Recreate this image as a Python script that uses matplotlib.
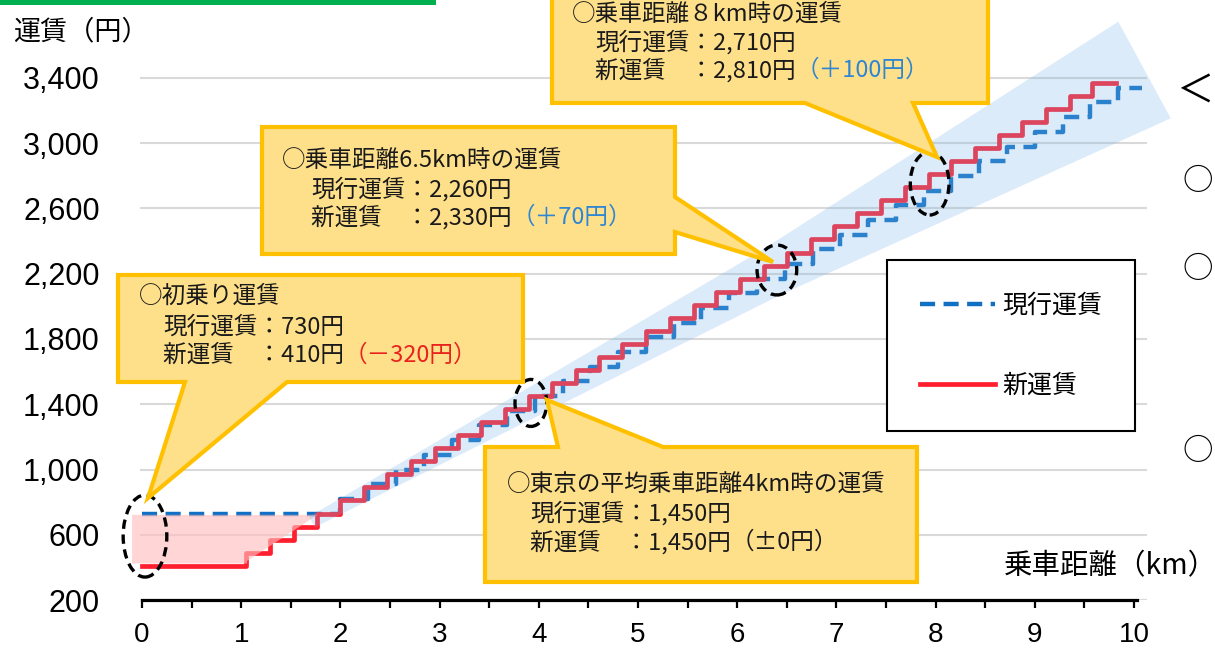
import matplotlib
matplotlib.use('Agg')
import matplotlib.pyplot as plt
from matplotlib.patches import Polygon, Ellipse, Rectangle
from matplotlib.ticker import FixedLocator, MultipleLocator, FuncFormatter
from matplotlib.font_manager import FontProperties

# ---------------- data ----------------
new_start_km = [0.00, 1.05, 1.29, 1.53, 1.76, 2.00, 2.24, 2.47, 2.71, 2.95,
                3.19, 3.42, 3.66, 3.90, 4.13, 4.37, 4.61, 4.84, 5.08, 5.32,
                5.56, 5.79, 6.03, 6.27, 6.50, 6.74, 6.98, 7.21, 7.45, 7.69,
                7.93, 8.16, 8.40, 8.64, 8.87, 9.11, 9.35, 9.58]
new_end_km = 9.82
new_fare = [410, 490, 570, 650, 730, 810, 890, 970, 1050, 1130,
            1210, 1290, 1370, 1450, 1530, 1610, 1690, 1770, 1850, 1930,
            2010, 2090, 2170, 2250, 2330, 2410, 2490, 2570, 2650, 2730,
            2810, 2890, 2970, 3050, 3130, 3210, 3290, 3370]

old_start_km = [0.00, 2.00, 2.28, 2.56, 2.84, 3.12, 3.40, 3.68, 3.96, 4.24,
                4.52, 4.80, 5.08, 5.36, 5.64, 5.92, 6.20, 6.48, 6.76, 7.04,
                7.32, 7.60, 7.88, 8.16, 8.44, 8.72, 9.00, 9.28, 9.56, 9.84]
old_end_km = 10.08
old_fare = [730, 820, 910, 1000, 1090, 1180, 1270, 1360, 1450, 1540,
            1630, 1720, 1810, 1900, 1990, 2080, 2170, 2260, 2350, 2440,
            2530, 2620, 2710, 2800, 2890, 2980, 3070, 3160, 3250, 3340]

y_ticks = [200, 600, 1000, 1400, 1800, 2200, 2600, 3000, 3400]
x_ticks = [0, 1, 2, 3, 4, 5, 6, 7, 8, 9, 10]
series_labels = ['現行運賃', '新運賃']
y_title = '運賃（円）'
x_title = '乗車距離（km）'

# highlighted points (dashed ellipses): centre km, centre fare
highlight_km = [0.03, 3.92, 6.40, 7.94]
highlight_fare = [592, 1408, 2223, 2754]

callout_titles = ['○初乗り運賃', '○東京の平均乗車距離4km時の運賃',
                  '○乗車距離6.5km時の運賃', '○乗車距離８km時の運賃']
callout_old = ['現行運賃：730円', '現行運賃：1,450円', '現行運賃：2,260円', '現行運賃：2,710円']
callout_new = ['新運賃　：410円', '新運賃　：1,450円', '新運賃　：2,330円', '新運賃　：2,810円']
callout_diff = ['（－320円）', '（±0円）', '（＋70円）', '（＋100円）']

# ---------------- styling ----------------
W, H = 1215, 649
plt.rcParams['font.family'] = ['Liberation Sans', 'Noto Sans CJK JP', 'DejaVu Sans']
JP = ['Noto Sans CJK JP', 'DejaVu Sans']
BLUE = '#1270C4'
RED = '#FF1F2E'
DIFF_COLORS = ['#E8231E', '#1A1A1A', '#2E86D2', '#2E86D2']

fig = plt.figure(figsize=(W / 100, H / 100), dpi=100)

KM_PX = 99.2          # pixels per km
X0_PX = 142.0         # pixel x of 0 km
YEN_PX = 65.25 / 400  # pixels per yen
Y200_PX = 600.0       # pixel y (from top) of 200 yen
xlim = (-0.02, 10.13)
ylim = (200, 3410)


def fx(px):
    return px / W


def fy(py):
    return 1 - py / H


left_px = X0_PX + xlim[0] * KM_PX
right_px = X0_PX + xlim[1] * KM_PX
top_px = Y200_PX - (ylim[1] - ylim[0]) * YEN_PX
ax = fig.add_axes([fx(left_px), fy(Y200_PX), (right_px - left_px) / W, (Y200_PX - top_px) / H])
ax.set_xlim(*xlim)
ax.set_ylim(*ylim)
ax.patch.set_visible(False)

for s in ['left', 'right', 'top']:
    ax.spines[s].set_visible(False)
ax.spines['bottom'].set_linewidth(2.3)
ax.spines['bottom'].set_bounds(0, 10.03)

ax.xaxis.set_major_locator(FixedLocator(x_ticks))
ax.xaxis.set_minor_locator(MultipleLocator(0.5))
ax.yaxis.set_major_locator(FixedLocator(y_ticks))
ax.yaxis.set_major_formatter(FuncFormatter(lambda v, p: f'{int(v):,}'))
ax.tick_params(axis='x', which='both', direction='out', length=5.5, width=1.6,
               color='black', labelsize=20, pad=10)
ax.tick_params(axis='y', length=0, labelsize=22, pad=29)
ax.set_axisbelow(True)
ax.yaxis.grid(True, color='#D9D9D9', lw=1.5)

# steps
old_x = old_start_km + [old_end_km]
old_y = old_fare + [old_fare[-1]]
new_x = new_start_km + [new_end_km]
new_y = new_fare + [new_fare[-1]]
blue_line, = ax.step(old_x, old_y, where='post', color=BLUE, lw=3.2,
                     dashes=(3.4, 1.9), zorder=3, label=series_labels[0])
red_line, = ax.step(new_x, new_y, where='post', color=RED, lw=3.4, zorder=4,
                    label=series_labels[1])

# pink area between initial fares
pink = Polygon([(-0.1, 722), (1.77, 722), (1.06, 440), (1.06, 424), (-0.1, 424)],
               closed=True, facecolor=(1.0, 0.74, 0.74), edgecolor='none',
               alpha=0.635, zorder=5, clip_on=False)
ax.add_patch(pink)

# light blue translucent band (pixel geometry): narrow at lower left, flaring at upper right
sx, sy = 312.0, 522.0
ex, ey = 1144.5, 70.0
dx, dy = ex - sx, ey - sy
L = (dx ** 2 + dy ** 2) ** 0.5
nx, ny = -dy / L, dx / L
ts = [0.0, 0.55, 1.0]
hw = [6.0, 24.0, 55.0]
upper, lower = [], []
for t, w_ in zip(ts, hw):
    cx, cy = sx + dx * t, sy + dy * t
    upper.append((cx - nx * w_, cy - ny * w_))
    lower.append((cx + nx * w_, cy + ny * w_))
band_px = upper + lower[::-1]
band = Polygon([(fx(a), fy(b)) for a, b in band_px], closed=True,
               transform=fig.transFigure, facecolor=(0.48, 0.70, 0.91),
               edgecolor='none', alpha=0.26, zorder=6, clip_on=False)
ax.add_patch(band)

# dashed ellipses
ell_w = [0.44, 0.32, 0.40, 0.39]
ell_h = [503, 288, 306, 388]
for k, f, w_, h_ in zip(highlight_km, highlight_fare, ell_w, ell_h):
    ax.add_patch(Ellipse((k, f), w_, h_, fill=False, edgecolor='black', lw=2.4,
                         linestyle=(0, (2.8, 1.7)), zorder=8, clip_on=False))

# callouts (pixel geometry)
callout_shapes = [
    [(118, 275), (523, 275), (523, 382), (287, 382), (148, 498), (185, 382), (118, 382)],
    [(485, 447), (558, 447), (547, 400), (663, 447), (917, 447), (917, 582), (485, 582)],
    [(262, 127), (675, 127), (675, 197), (773, 262), (675, 232), (675, 254), (262, 254)],
    [(552, -10), (988, -10), (988, 103), (913, 103), (937, 157), (805, 103), (552, 103)],
]
callout_text_pos = [  # x_title, x_body, y1, y2, y3
    (139, 163, 296, 327, 355),
    (507, 530, 484, 513, 542),
    (282, 311, 160, 189, 217),
    (572, 595, 14, 42, 70),
]
for shape, pos, t1, t2, t3, td, col in zip(callout_shapes, callout_text_pos, callout_titles,
                                           callout_old, callout_new, callout_diff, DIFF_COLORS):
    ax.add_patch(Polygon([(fx(a), fy(b)) for a, b in shape], closed=True,
                         transform=fig.transFigure, facecolor='#FFE08A',
                         edgecolor='#FFC000', lw=3.0, joinstyle='miter',
                         zorder=10, clip_on=False))
    xt, xb, y1, y2, y3 = pos
    kw = dict(transform=fig.transFigure, family=JP, fontsize=17, va='center',
              ha='left', color='#1A1A1A', zorder=11)
    ax.text(fx(xt), fy(y1), t1, **kw)
    ax.text(fx(xb), fy(y2), t2, **kw)
    tn = ax.text(fx(xb), fy(y3), t3, **kw)
    ax.annotate(td, xy=(1.0, 0.5), xycoords=tn, va='center', ha='left',
                family=JP, fontsize=17, color=col, zorder=11)

# legend
leg = ax.legend(handles=[blue_line, red_line], labels=series_labels,
                loc='upper left', bbox_to_anchor=(fx(887), fy(260)),
                bbox_transform=fig.transFigure, borderaxespad=0,
                frameon=True, fancybox=False, edgecolor='black', framealpha=1,
                prop=FontProperties(family=JP, size=18), handlelength=3.0,
                handletextpad=0.3, labelspacing=2.15, borderpad=1.3)
leg.get_frame().set_linewidth(1.5)
leg.set_zorder(9)

# axis titles
fig.text(fx(13), fy(32), y_title, family=JP, fontsize=19.5, ha='left', va='center')
fig.text(fx(1004), fy(566), x_title, family=JP, fontsize=20.5, ha='left', va='center')

# top green bar
fig.patches.append(Rectangle((0, fy(5)), fx(436), 5 / H, transform=fig.transFigure,
                             facecolor='#00B050', edgecolor='none'))

# slide text at right edge (partially outside the chart in the source)
fig.text(fx(1214), fy(92), '＜', family=JP, fontsize=27, ha='right', va='center')
for yy in [182, 270, 452]:
    fig.text(fx(1182), fy(yy), '○', family=JP, fontsize=22, ha='left', va='center')

fig.savefig('out.png', dpi=100)
